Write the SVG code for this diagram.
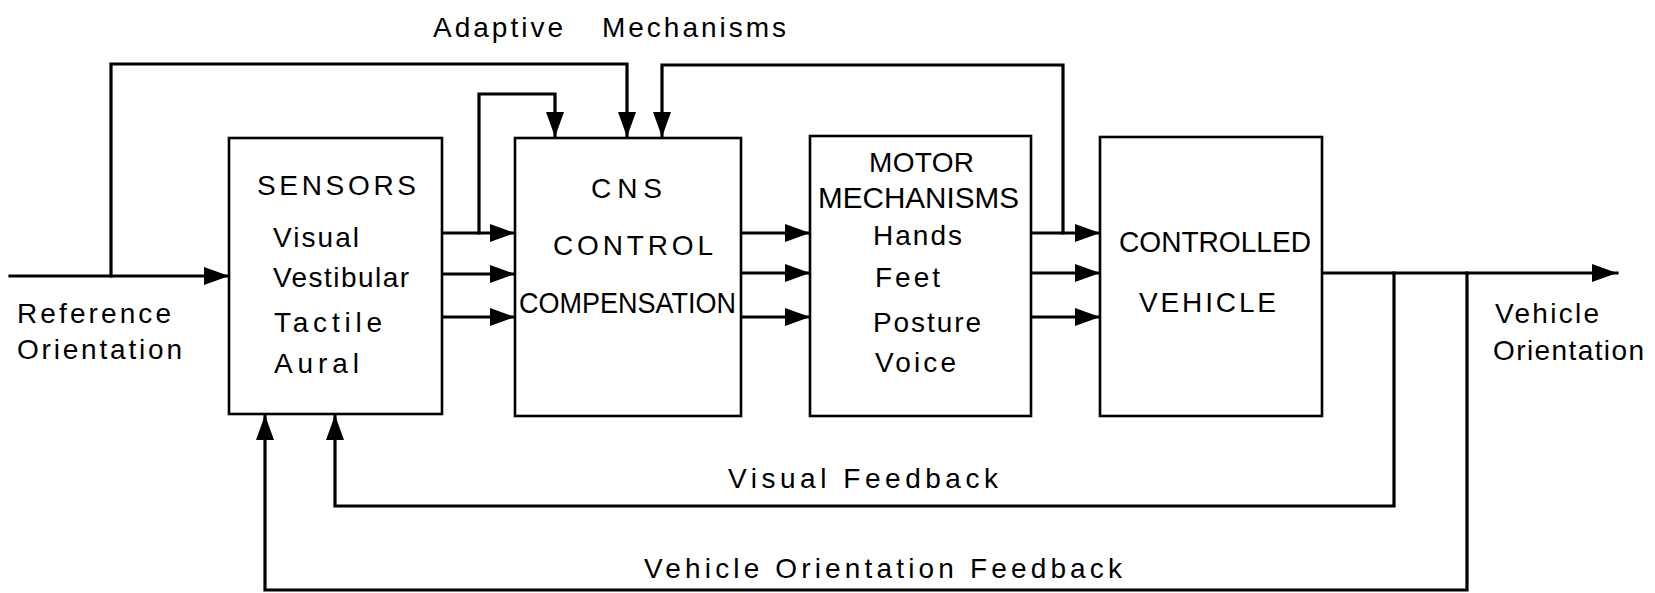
<svg xmlns="http://www.w3.org/2000/svg" width="1655" height="593" viewBox="0 0 1655 593">
<style>
  .box { fill: #ffffff; stroke: #000000; stroke-width: 2.6; }
  .wire { fill: none; stroke: #000000; stroke-width: 3.2; stroke-linejoin: miter; stroke-linecap: square; }
  .t { font-family: "Liberation Sans", Arial, sans-serif; font-size: 28px; fill: #000000; }
  .c { font-family: "Liberation Sans", Arial, sans-serif; font-size: 29px; fill: #000000; }
</style>
<defs>
  <marker id="ah" markerUnits="userSpaceOnUse" markerWidth="26" markerHeight="20" refX="25" refY="10" orient="auto">
    <path d="M0,1 L25,10 L0,19 z" fill="#000000"/>
  </marker>
</defs>
<rect width="1655" height="593" fill="#ffffff"/>

<g id="connectors">
  <path class="wire" d="M10,276 H229" marker-end="url(#ah)"/>
  <path class="wire" d="M111,276 V64 H627 V137" marker-end="url(#ah)"/>
  <path class="wire" d="M479,233 V94 H555 V137" marker-end="url(#ah)"/>
  <path class="wire" d="M1063,233 V65 H662 V137" marker-end="url(#ah)"/>
  <path class="wire" d="M442,233 H515" marker-end="url(#ah)"/>
  <path class="wire" d="M442,274 H515" marker-end="url(#ah)"/>
  <path class="wire" d="M442,317 H515" marker-end="url(#ah)"/>
  <path class="wire" d="M741,233 H810" marker-end="url(#ah)"/>
  <path class="wire" d="M741,273 H810" marker-end="url(#ah)"/>
  <path class="wire" d="M741,317 H810" marker-end="url(#ah)"/>
  <path class="wire" d="M1031,233 H1100" marker-end="url(#ah)"/>
  <path class="wire" d="M1031,273 H1100" marker-end="url(#ah)"/>
  <path class="wire" d="M1031,317 H1100" marker-end="url(#ah)"/>
  <path class="wire" d="M1322,273 H1617" marker-end="url(#ah)"/>
  <path class="wire" d="M1394,273 V506 H335 V415" marker-end="url(#ah)"/>
  <path class="wire" d="M1467,273 V590 H265 V415" marker-end="url(#ah)"/>
</g>

<g id="sensors">
  <rect class="box" x="229" y="138" width="213" height="276"/>
  <text class="t" x="257" y="195" textLength="159">SENSORS</text>
  <text class="t" x="273" y="247" textLength="86">Visual</text>
  <text class="t" x="273" y="287" textLength="136">Vestibular</text>
  <text class="t" x="274" y="332" textLength="108">Tactile</text>
  <text class="t" x="274" y="373" textLength="85">Aural</text>
</g>

<g id="cns">
  <rect class="box" x="515" y="138" width="226" height="278"/>
  <text class="t" x="591" y="198" textLength="71">CNS</text>
  <text class="t" x="553" y="255" textLength="160">CONTROL</text>
  <text class="c" x="519" y="313" textLength="217" lengthAdjust="spacingAndGlyphs">COMPENSATION</text>
</g>

<g id="motor">
  <rect class="box" x="810" y="136" width="221" height="280"/>
  <text class="t" x="869" y="172" textLength="105">MOTOR</text>
  <text class="c" x="818" y="208" textLength="201" lengthAdjust="spacingAndGlyphs">MECHANISMS</text>
  <text class="t" x="873" y="245" textLength="89">Hands</text>
  <text class="t" x="875" y="287" textLength="65">Feet</text>
  <text class="t" x="873" y="332" textLength="108">Posture</text>
  <text class="t" x="875" y="372" textLength="81">Voice</text>
</g>

<g id="controlled-vehicle">
  <rect class="box" x="1100" y="137" width="222" height="279"/>
  <text class="c" x="1119" y="252" textLength="192" lengthAdjust="spacingAndGlyphs">CONTROLLED</text>
  <text class="t" x="1139" y="312" textLength="137">VEHICLE</text>
</g>

<g id="labels">
  <text class="t" x="433" y="37" textLength="130">Adaptive</text>
  <text class="t" x="602" y="37" textLength="184">Mechanisms</text>
  <text class="t" x="17" y="323" textLength="154">Reference</text>
  <text class="t" x="17" y="359" textLength="165">Orientation</text>
  <text class="t" x="1495" y="323" textLength="104">Vehicle</text>
  <text class="t" x="1493" y="360" textLength="151">Orientation</text>
  <text class="t" x="728" y="488" textLength="270">Visual Feedback</text>
  <text class="t" x="644" y="578" textLength="478">Vehicle Orientation Feedback</text>
</g>
</svg>
